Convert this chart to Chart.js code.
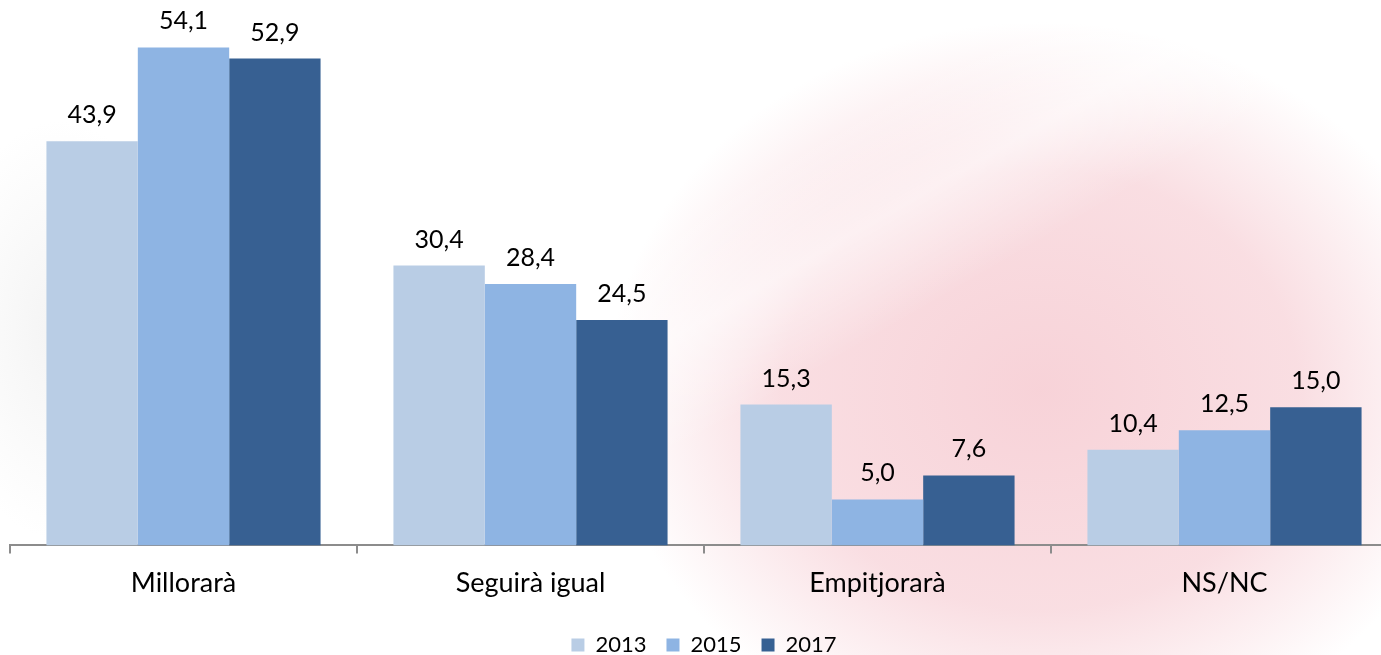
<!DOCTYPE html>
<html>
<head>
<meta charset="utf-8">
<script src="https://cdn.jsdelivr.net/npm/chart.js@4.4.1/dist/chart.umd.min.js"></script>
<style>
  html, body { margin: 0; padding: 0; background: #ffffff; }
  #wrap { position: relative; width: 1381px; height: 655px; overflow: hidden;
    background:
      linear-gradient(150deg, rgba(255,255,255,0) 0%, rgba(255,255,255,0) 42%, rgba(255,255,255,0.55) 50%, rgba(255,255,255,0) 58%, rgba(255,255,255,0) 100%),
      radial-gradient(ellipse 470px 400px at 1040px 390px, rgba(247,208,214,0.95), rgba(247,208,214,0.7) 55%, rgba(247,208,214,0) 92%),
      radial-gradient(ellipse 160px 280px at 60px 330px, rgba(236,236,236,0.6), rgba(236,236,236,0) 75%),
      #ffffff; }
  #c { position: absolute; left: 0; top: 0; }
</style>
</head>
<body>
<div id="wrap"><canvas id="c" width="1408" height="666"></canvas></div>
<script>
const categories = ["Millorarà", "Seguirà igual", "Empitjorarà", "NS/NC"];
const seriesLabels = ["2013", "2015", "2017"];
const values2013 = [43.9, 30.4, 15.3, 10.4];
const values2015 = [54.1, 28.4, 5.0, 12.5];
const values2017 = [52.9, 24.5, 7.6, 15.0];
const colors = ["#B9CDE5", "#8EB4E3", "#376092"];

const valueLabelPlugin = {
  id: "valueLabels",
  afterDatasetsDraw(chart) {
    const ctx = chart.ctx;
    ctx.save();
    ctx.font = "25px Lato";
    ctx.fillStyle = "#000000";
    ctx.textAlign = "center";
    ctx.textBaseline = "alphabetic";
    chart.data.datasets.forEach((ds, i) => {
      const meta = chart.getDatasetMeta(i);
      meta.data.forEach((bar, j) => {
        const txt = ds.data[j].toFixed(1).replace(".", ",");
        ctx.fillText(txt, bar.x, bar.y - 18);
      });
    });
    ctx.restore();
  }
};

new Chart(document.getElementById("c"), {
  type: "bar",
  data: {
    labels: categories,
    datasets: [
      { label: seriesLabels[0], data: values2013, backgroundColor: colors[0] },
      { label: seriesLabels[1], data: values2015, backgroundColor: colors[1] },
      { label: seriesLabels[2], data: values2017, backgroundColor: colors[2] }
    ]
  },
  options: {
    responsive: false,
    animation: false,
    layout: { padding: { left: 10, right: 10, top: 30, bottom: 0 } },
    datasets: { bar: { barPercentage: 1.0, categoryPercentage: 0.79, borderWidth: 0 } },
    plugins: {
      legend: {
        position: "bottom",
        labels: {
          font: { family: "Lato", size: 22 },
          color: "#000000",
          boxWidth: 13,
          boxHeight: 13,
          padding: 20
        }
      },
      tooltip: { enabled: false }
    },
    scales: {
      x: {
        grid: { display: true, drawOnChartArea: false, drawTicks: true, tickLength: 8, color: "#8c8c8c", offset: true, lineWidth: 2 },
        border: { display: true, color: "#8c8c8c", width: 2 },
        ticks: { font: { family: "Lato", size: 27, lineHeight: 1.8 }, color: "#000000", padding: 6 }
      },
      y: { display: false, min: 0, max: 56 }
    }
  },
  plugins: [valueLabelPlugin]
});
</script>
</body>
</html>
